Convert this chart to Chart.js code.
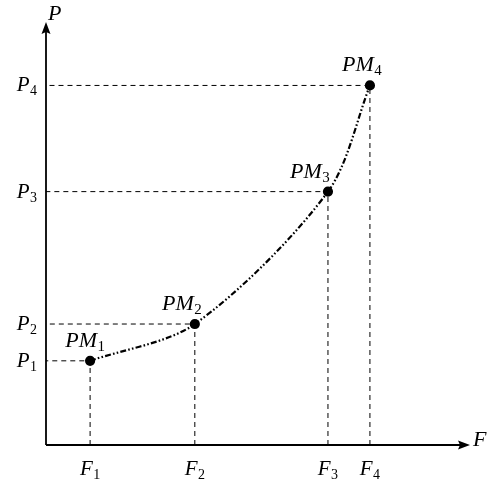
<!DOCTYPE html>
<html><head><meta charset="utf-8">
<script src="https://cdn.jsdelivr.net/npm/chart.js@4"></script>
<style>html,body{margin:0;padding:0;background:#fff}#w{width:489px;height:479px;position:relative}</style>
</head><body><div id="w"><canvas id="c"></canvas></div>
<script>
// Data
const forceValues = [1.04, 3.51, 6.65, 7.64];      // F1..F4
const powerValues = [1.99, 2.86, 5.99, 8.50];      // P1..P4
const xTickLabels = ["F1", "F2", "F3", "F4"];
const yTickLabels = ["P1", "P2", "P3", "P4"];
const pointLabels = ["PM1", "PM2", "PM3", "PM4"];
const xAxisTitle = "F";
const yAxisTitle = "P";

const curvePts = forceValues.map((f, i) => ({x: f, y: powerValues[i]}));
const guideSets = forceValues.map((f, i) => ({
  data: [{x: f, y: 0}, {x: f, y: powerValues[i]}, {x: 0, y: powerValues[i]}],
  showLine: true, borderColor: '#000', borderWidth: 1, borderDash: [5, 4],
  pointRadius: 0, fill: false, tension: 0
}));

const FONT = '"Liberation Serif", "DejaVu Serif", serif';
function drawSub(ctx, text, x, y, align, size) {
  const m = text.match(/^(\D+)(\d*)$/);
  const main = m[1], sub = m[2];
  const subSize = Math.round(size * 0.68);
  ctx.font = 'italic ' + size + 'px ' + FONT;
  const w1 = ctx.measureText(main).width;
  ctx.font = subSize + 'px ' + FONT;
  const w2 = sub ? ctx.measureText(sub).width : 0;
  const tw = w1 + w2 + (sub ? 0.5 : 0);
  let x0 = x;
  if (align === 'center') x0 = x - tw / 2;
  else if (align === 'right') x0 = x - tw;
  ctx.textAlign = 'left'; ctx.textBaseline = 'alphabetic';
  ctx.fillStyle = '#000';
  ctx.font = 'italic ' + size + 'px ' + FONT;
  ctx.fillText(main, x0, y);
  if (sub) {
    ctx.font = subSize + 'px ' + FONT;
    ctx.fillText(sub, x0 + w1 + 0.5, y + 4);
  }
}

const axesPlugin = {
  id: 'axesPlugin',
  afterDatasetsDraw(chart) {
    const ctx = chart.ctx, xs = chart.scales.x, ys = chart.scales.y;
    const x0 = xs.getPixelForValue(0), y0 = ys.getPixelForValue(0);
    const xEnd = xs.getPixelForValue(xs.max), yEnd = ys.getPixelForValue(ys.max);
    ctx.save();
    ctx.strokeStyle = '#000'; ctx.fillStyle = '#000'; ctx.lineWidth = 1.8;
    ctx.beginPath(); ctx.moveTo(x0, y0); ctx.lineTo(xEnd - 8, y0); ctx.stroke();
    ctx.beginPath(); ctx.moveTo(x0, y0); ctx.lineTo(x0, yEnd + 8); ctx.stroke();
    ctx.beginPath(); ctx.moveTo(xEnd, y0); ctx.lineTo(xEnd - 12, y0 - 4.5); ctx.lineTo(xEnd - 10, y0); ctx.lineTo(xEnd - 12, y0 + 4.5); ctx.closePath(); ctx.fill();
    ctx.beginPath(); ctx.moveTo(x0, yEnd); ctx.lineTo(x0 - 4.5, yEnd + 12); ctx.lineTo(x0, yEnd + 10); ctx.lineTo(x0 + 4.5, yEnd + 12); ctx.closePath(); ctx.fill();
    drawSub(ctx, xAxisTitle, xEnd + 3, y0 + 1, 'left', 22);
    drawSub(ctx, yAxisTitle, x0 + 2, yEnd - 2, 'left', 22);
    forceValues.forEach((f, i) => drawSub(ctx, xTickLabels[i], xs.getPixelForValue(f), y0 + 30, 'center', 21));
    powerValues.forEach((p, i) => drawSub(ctx, yTickLabels[i], x0 - 9, ys.getPixelForValue(p) + 6, 'right', 21));
    const dx = [-5, -13, -18, -8];
    curvePts.forEach((pt, i) => drawSub(ctx, pointLabels[i], xs.getPixelForValue(pt.x) + dx[i], ys.getPixelForValue(pt.y) - 14, 'center', 22));
    ctx.restore();
  }
};

new Chart(document.getElementById('c'), {
  type: 'scatter',
  data: {
    datasets: [
      ...guideSets,
      {
        data: curvePts, showLine: true, borderColor: '#000', borderWidth: 2.2,
        borderDash: [6, 2.2, 1.6, 2.2, 1.6, 2.2], tension: 0.3,
        pointRadius: 4, pointBackgroundColor: '#000', pointBorderColor: '#000', fill: false
      }
    ]
  },
  options: {
    responsive: true, maintainAspectRatio: false, animation: false,
    layout: {padding: {left: 46, right: 19, top: 22, bottom: 34}},
    plugins: {legend: {display: false}, tooltip: {enabled: false}},
    scales: {
      x: {type: 'linear', min: 0, max: 10, display: false},
      y: {type: 'linear', min: 0, max: 10, display: false}
    }
  },
  plugins: [axesPlugin]
});
</script>
</body></html>
